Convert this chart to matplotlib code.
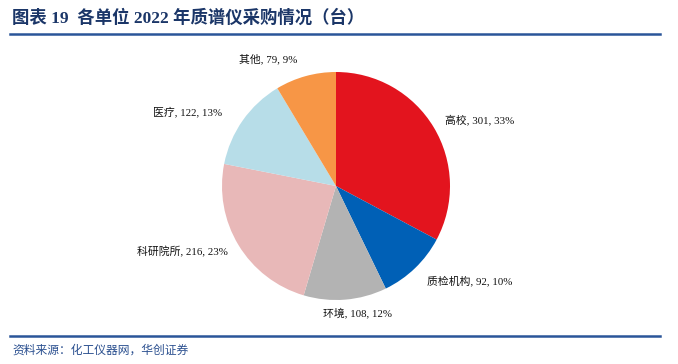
import numpy as np
import matplotlib
matplotlib.use("Agg")
import matplotlib.pyplot as plt
from matplotlib.lines import Line2D

categories = ["高校", "质检机构", "环境", "科研院所", "医疗", "其他"]
values = [301, 92, 108, 216, 122, 79]
percents = ["33%", "10%", "12%", "23%", "13%", "9%"]
colors = ["#E3141E", "#0060B6", "#B3B3B3", "#E8B8B8", "#B7DDE8", "#F79646"]

title = "图表 19  各单位 2022 年质谱仪采购情况（台）"
source = "资料来源：化工仪器网，华创证券"

# label placement styles (radius factor, angle tweak in degrees, ha)
label_r = [1.12, 1.15, 1.13, 1.11, 1.19, 1.12]
label_da = [0, 0, 5, 0, 2, 2]
label_ha = ["left", "left", "center", "right", "right", "right"]
label_va = ["center", "center", "center", "center", "center", "bottom"]

W, H = 678, 364
fig = plt.figure(figsize=(W / 100, H / 100), dpi=100)
fig.patch.set_facecolor("white")

cx, cy, R = 336, 186, 114
ax = fig.add_axes([0, 0, 1, 1])
wedges, _ = ax.pie(values, colors=colors, startangle=90, counterclock=False,
                   radius=1, wedgeprops=dict(linewidth=0))
ax.set_xlim(-cx / R, (W - cx) / R)
ax.set_ylim(-(H - cy) / R, cy / R)
ax.set_aspect("auto")
ax.axis("off")

lab_font = ["Liberation Serif", "Noto Sans CJK SC"]
for i, w in enumerate(wedges):
    ang = (w.theta1 + w.theta2) / 2 + label_da[i]
    a = np.deg2rad(ang)
    x = label_r[i] * np.cos(a)
    y = label_r[i] * np.sin(a)
    ax.text(x, y, f"{categories[i]}, {values[i]}, {percents[i]}",
            ha=label_ha[i], va=label_va[i], fontsize=7.8, family=lab_font,
            color="#111111", clip_on=False)

navy = "#1B3668"
fig.text(12 / W, 1 - 18 / H, title, fontsize=12.5, fontweight="bold",
         family=lab_font, color=navy, va="center", ha="left")
fig.add_artist(Line2D([10 / W, 660 / W], [1 - 34 / H, 1 - 34 / H],
                      color="#2A5599", linewidth=1.8, transform=fig.transFigure))
fig.add_artist(Line2D([10 / W, 660 / W], [1 - 336 / H, 1 - 336 / H],
                      color="#2A5599", linewidth=1.8, transform=fig.transFigure))
fig.text(12 / W, 1 - 351 / H, source, fontsize=8.5, family=lab_font,
         color="#2A4F8F", va="center", ha="left", style="italic")

fig.savefig("out.png", dpi=100, facecolor="white")
